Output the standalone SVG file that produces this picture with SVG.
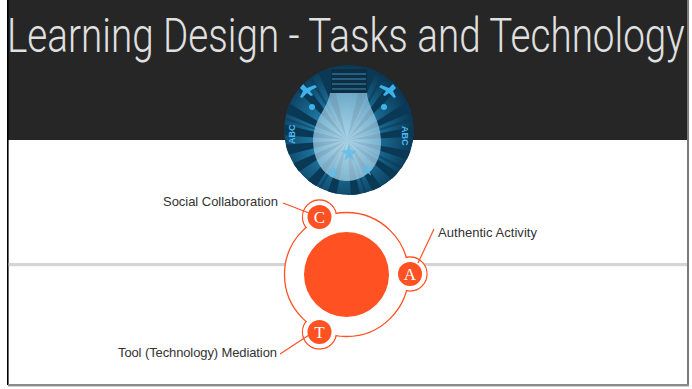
<svg xmlns="http://www.w3.org/2000/svg" width="692" height="389" viewBox="0 0 692 389">
  <defs>
    <style>
      .title { font-family: "Roboto", "Liberation Sans", sans-serif; font-weight: 300; font-size: 48px; fill: #e0e0e0; }
      .label { font-family: "Liberation Sans", Arial, sans-serif; font-size: 13px; fill: #333333; }
      .letter { font-family: "Liberation Serif", "Times New Roman", serif; font-size: 17px; fill: #ffffff; text-anchor: middle; }
      .ring { fill: #ffffff; stroke: #ff5122; stroke-width: 1.3; }
      .dot { fill: #ff5122; }
      .mask { fill: #ffffff; }
      .leader { stroke: #ff5122; stroke-width: 1.2; fill: none; }
      .ray { fill: #0b3a57; }
      .icon { fill: #3fb2ea; }
      .abc { font-family: "Liberation Sans", Arial, sans-serif; font-size: 9px; fill: #4fbdf0; font-weight: bold; }
    </style>
    <radialGradient id="burst" cx="0.45" cy="0.55" r="0.6">
      <stop offset="0" stop-color="#4aa6d2"/>
      <stop offset="0.45" stop-color="#1c6f99"/>
      <stop offset="1" stop-color="#08304a"/>
    </radialGradient>
    <radialGradient id="glow" cx="0.5" cy="0.6" r="0.6">
      <stop offset="0" stop-color="#c8e6f4" stop-opacity="0.95"/>
      <stop offset="1" stop-color="#93c6e0" stop-opacity="0.85"/>
    </radialGradient>
    <clipPath id="bulbClip">
      <circle cx="349" cy="130" r="65"/>
    </clipPath>
  </defs>

  <!-- slide frame -->
  <rect x="0" y="0" width="692" height="389" fill="#ffffff"/>
  <rect x="8" y="0" width="679" height="140" fill="#262626"/>
  <rect x="7" y="0" width="1.6" height="385" fill="#000000"/>
  <rect x="687" y="0" width="2" height="386" fill="#7a7a7a"/>
  <rect x="8" y="384" width="681" height="2.4" fill="#8a8a8a"/>

  <text class="title" transform="translate(7 52) scale(0.8 1)" x="0" y="0" textLength="847" lengthAdjust="spacingAndGlyphs">Learning Design - Tasks and Technology</text>

  <!-- horizontal divider -->
  <rect x="8.6" y="263" width="678.4" height="3.2" fill="#d4d4d4"/>

  <!-- light bulb badge -->
  <g id="bulb" clip-path="url(#bulbClip)">
    <circle cx="349" cy="130" r="65" fill="url(#burst)"/>
    <g transform="translate(347 140)">
      <path class="ray" d="M0 0 L-80 -20 L-80 -6 Z"/>
      <path class="ray" d="M0 0 L-80 6 L-80 20 Z"/>
      <path class="ray" d="M0 0 L-78 34 L-70 46 Z"/>
      <path class="ray" d="M0 0 L-60 62 L-48 72 Z"/>
      <path class="ray" d="M0 0 L-30 80 L-16 82 Z"/>
      <path class="ray" d="M0 0 L6 84 L20 82 Z"/>
      <path class="ray" d="M0 0 L38 76 L50 68 Z"/>
      <path class="ray" d="M0 0 L64 56 L72 46 Z"/>
      <path class="ray" d="M0 0 L80 26 L82 14 Z"/>
      <path class="ray" d="M0 0 L82 -4 L80 -16 Z"/>
      <path class="ray" d="M0 0 L78 -34 L72 -46 Z"/>
      <path class="ray" d="M0 0 L62 -62 L52 -70 Z"/>
      <path class="ray" d="M0 0 L34 -80 L20 -84 Z"/>
      <path class="ray" d="M0 0 L-20 -84 L-34 -80 Z"/>
      <path class="ray" d="M0 0 L-52 -70 L-62 -62 Z"/>
      <path class="ray" d="M0 0 L-72 -46 L-78 -34 Z"/>
      <g opacity="0.55">
        <path class="ray" d="M0 0 L-82 -30 L-80 -26 Z"/>
        <path class="ray" d="M0 0 L-76 44 L-74 48 Z"/>
        <path class="ray" d="M0 0 L-44 74 L-40 76 Z"/>
        <path class="ray" d="M0 0 L26 80 L30 79 Z"/>
        <path class="ray" d="M0 0 L74 40 L76 36 Z"/>
        <path class="ray" d="M0 0 L82 -24 L81 -28 Z"/>
        <path class="ray" d="M0 0 L44 -74 L40 -76 Z"/>
        <path class="ray" d="M0 0 L-42 -76 L-46 -74 Z"/>
      </g>
    </g>
    <!-- screw base -->
    <rect x="331" y="69" width="36" height="24" fill="#0d2f46"/>
    <g stroke="#2f6f92" stroke-width="1.6">
      <line x1="332" y1="74" x2="366" y2="74"/>
      <line x1="332" y1="79" x2="366" y2="79"/>
      <line x1="332" y1="84" x2="366" y2="84"/>
      <line x1="332" y1="89" x2="366" y2="89"/>
    </g>
    <!-- glass -->
    <path d="M330 93 L367 93 C368 108 380 118 381 140 C382 165 366 181 347 181 C328 181 313 165 313 140 C314 118 328 108 330 93 Z" fill="url(#glow)" opacity="0.85"/>
    <g fill="#5fbde6" opacity="0.8">
      <path d="M347 150 l2 -6 l2 6 l6 1 l-5 4 l2 6 l-5 -4 l-5 4 l2 -6 l-5 -4 Z"/>
      <path d="M332 170 l1.5 -4 l1.5 4 l4 0.5 l-3 3 l1 4 l-3.5 -2.5 l-3.5 2.5 l1 -4 l-3 -3 Z"/>
      <path d="M366 168 l1.5 -4 l1.5 4 l4 0.5 l-3 3 l1 4 l-3.5 -2.5 l-3.5 2.5 l1 -4 l-3 -3 Z"/>
    </g>
    <!-- small icons -->
    <path class="icon" d="M303 84 l4 4 l8 -3 l2 2 l-7 4 l3 4 l-2 1 l-4 -3 l-5 5 l-2 -1 l3 -6 l-3 -3 Z"/>
    <path class="icon" d="M393 84 l-4 4 l-8 -3 l-2 2 l7 4 l-3 4 l2 1 l4 -3 l5 5 l2 -1 l-3 -6 l3 -3 Z"/>
    <circle class="icon" cx="312" cy="107" r="3"/>
    <circle class="icon" cx="384" cy="107" r="3"/>
    <text class="abc" transform="translate(295 144) rotate(-90)">ABC</text>
    <text class="abc" transform="translate(402 126) rotate(90)">ABC</text>
  </g>

  <!-- central cycle -->
  <g id="cycle">
    <circle class="ring" cx="319.5" cy="217" r="17"/>
    <circle class="ring" cx="410" cy="274" r="17"/>
    <circle class="ring" cx="319.5" cy="332" r="17"/>
    <circle class="ring" cx="346.5" cy="274.5" r="62"/>
    <circle class="mask" cx="319.5" cy="217" r="16.3"/>
    <circle class="mask" cx="410" cy="274" r="16.3"/>
    <circle class="mask" cx="319.5" cy="332" r="16.3"/>
    <circle class="dot" cx="346.5" cy="274.5" r="42.5"/>
  </g>

  <g id="node-c">
    <circle class="dot" cx="319.5" cy="217" r="12"/>
    <text class="letter" x="319.5" y="223">C</text>
  </g>
  <g id="node-a">
    <circle class="dot" cx="410" cy="274" r="12"/>
    <text class="letter" x="410" y="280">A</text>
  </g>
  <g id="node-t">
    <circle class="dot" cx="319.5" cy="332" r="12"/>
    <text class="letter" x="319.5" y="338">T</text>
  </g>

  <!-- leader lines -->
  <g id="connectors">
    <line class="leader" x1="283" y1="203" x2="309" y2="213"/>
    <line class="leader" x1="434" y1="229" x2="418" y2="263"/>
    <line class="leader" x1="280" y1="354" x2="309" y2="335"/>
  </g>

  <g id="labels">
    <text class="label" x="278" y="206" text-anchor="end" textLength="115">Social Collaboration</text>
    <text class="label" x="438" y="237" textLength="99">Authentic Activity</text>
    <text class="label" x="277" y="357" text-anchor="end" textLength="159">Tool (Technology) Mediation</text>
  </g>
</svg>
